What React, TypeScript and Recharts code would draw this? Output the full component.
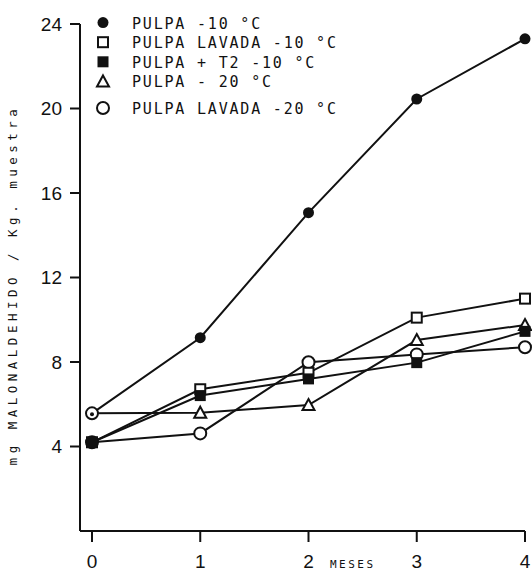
import React from 'react';
import { LineChart, Line, XAxis, YAxis } from 'recharts';

const months = [0, 1, 2, 3, 4];
const pulpa10 = [5.57, 9.15, 15.07, 20.45, 23.3];
const lavada10 = [4.2, 6.71, 7.49, 10.1, 11.0];
const pulpaT2 = [4.2, 6.41, 7.2, 7.97, 9.45];
const pulpa20 = [5.57, 5.6, 5.96, 9.04, 9.75];
const lavada20 = [4.2, 4.62, 7.99, 8.36, 8.7];

const yTicks = [4, 8, 12, 16, 20, 24];

const data = months.map((m, i) => ({
  m,
  pulpa10: pulpa10[i],
  lavada10: lavada10[i],
  pulpaT2: pulpaT2[i],
  pulpa20: pulpa20[i],
  lavada20: lavada20[i],
}));

const INK = '#111';
const MONO = '"DejaVu Sans Mono", "Liberation Mono", monospace';
const SANS = '"Liberation Sans", Arial, sans-serif';

type Kind = 'dot' | 'openSquare' | 'square' | 'triangle' | 'circle';

function Marker({ kind, cx, cy }: { kind: Kind; cx: number; cy: number }) {
  switch (kind) {
    case 'dot':
      return <circle cx={cx} cy={cy} r={5.5} fill={INK} />;
    case 'openSquare':
      return <rect x={cx - 5} y={cy - 5} width={10} height={10} fill="#fff" stroke={INK} strokeWidth={2} />;
    case 'square':
      return <rect x={cx - 5.5} y={cy - 5.5} width={11} height={11} fill={INK} />;
    case 'triangle':
      return (
        <polygon
          points={`${cx},${cy - 6} ${cx + 6},${cy + 5} ${cx - 6},${cy + 5}`}
          fill="#fff"
          stroke={INK}
          strokeWidth={2}
        />
      );
    default:
      return <circle cx={cx} cy={cy} r={6} fill="#fff" stroke={INK} strokeWidth={2} />;
  }
}

// first point of PULPA -10 is printed as a ring in the original, triangle hidden under it
const dotFor = (kind: Kind, firstAsRing = false, hideFirst = false) => (props: any) => {
  const { cx, cy, index } = props;
  if (cx == null || cy == null) return <g key={`e-${index}`} />;
  if (hideFirst && index === 0) return <g key={`h-${index}`} />;
  if (firstAsRing && index === 0) {
    return (
      <g key={`r-${index}`}>
        <circle cx={cx} cy={cy} r={6} fill="#fff" stroke={INK} strokeWidth={2} />
        <circle cx={cx} cy={cy + 1} r={2} fill={INK} />
      </g>
    );
  }
  return (
    <g key={`${kind}-${index}`}>
      <Marker kind={kind} cx={cx} cy={cy} />
    </g>
  );
};

const legendItems: { kind: Kind; label: string; gap?: number }[] = [
  { kind: 'dot', label: 'PULPA -10 °C' },
  { kind: 'openSquare', label: 'PULPA LAVADA -10 °C' },
  { kind: 'square', label: 'PULPA + T2 -10 °C' },
  { kind: 'triangle', label: 'PULPA - 20 °C' },
  { kind: 'circle', label: 'PULPA LAVADA -20 °C', gap: 7 },
];

function LegendBox() {
  let cy = 3;
  return (
    <svg width={300} height={120} style={{ position: 'absolute', left: 95, top: 0 }}>
      {legendItems.map((it) => {
        cy += 19.6 + (it.gap || 0);
        return (
          <g key={it.label}>
            <Marker kind={it.kind} cx={8} cy={cy} />
            <text x={37} y={cy + 6} fontFamily={MONO} fontSize={15} letterSpacing={1.8} fill={INK}>
              {it.label}
            </text>
          </g>
        );
      })}
    </svg>
  );
}

const XTick = (props: any) => {
  const { x, y, payload } = props;
  return (
    <text x={x} y={y} dy={22} textAnchor="middle" fontFamily={SANS} fontSize={19} fill={INK}>
      {payload.value}
    </text>
  );
};

export default function App() {
  return (
    <div style={{ position: 'absolute', left: 0, top: 0, width: 532, height: 571, background: '#fff' }}>
      <LineChart width={532} height={571} data={data} margin={{ top: 24, right: 7, bottom: 0, left: 0 }}>
        <XAxis
          dataKey="m"
          type="number"
          domain={[0, 4]}
          ticks={months}
          padding={{ left: 12, right: 0 }}
          stroke={INK}
          strokeWidth={2}
          tickSize={11}
          tickMargin={4}
          tick={<XTick />}
          height={40}
          label={{
            content: () => (
              <text x={330} y={568} fontFamily={MONO} fontSize={11} letterSpacing={2.5} fill={INK}>
                MESES
              </text>
            ),
          }}
        />
        <YAxis
          type="number"
          domain={[0, 24]}
          ticks={yTicks}
          width={80}
          stroke={INK}
          strokeWidth={2}
          tickSize={10}
          tickMargin={8}
          tick={{ fill: INK, fontSize: 19, fontFamily: SANS }}
          label={{
            content: () => (
              <text
                x={0}
                y={0}
                transform="translate(17, 285) rotate(-90)"
                textAnchor="middle"
                fontFamily={MONO}
                fontSize={12.5}
                letterSpacing={4.5}
                fill={INK}
              >
                mg MALONALDEHIDO / Kg. muestra
              </text>
            ),
          }}
        />
        <Line dataKey="pulpa20" stroke={INK} strokeWidth={2} dot={dotFor('triangle', false, true)} isAnimationActive={false} />
        <Line dataKey="lavada20" stroke={INK} strokeWidth={2} dot={dotFor('circle')} isAnimationActive={false} />
        <Line dataKey="lavada10" stroke={INK} strokeWidth={2} dot={dotFor('openSquare')} isAnimationActive={false} />
        <Line dataKey="pulpaT2" stroke={INK} strokeWidth={2} dot={dotFor('square')} isAnimationActive={false} />
        <Line dataKey="pulpa10" stroke={INK} strokeWidth={2} dot={dotFor('dot', true)} isAnimationActive={false} />
      </LineChart>
      <LegendBox />
    </div>
  );
}
